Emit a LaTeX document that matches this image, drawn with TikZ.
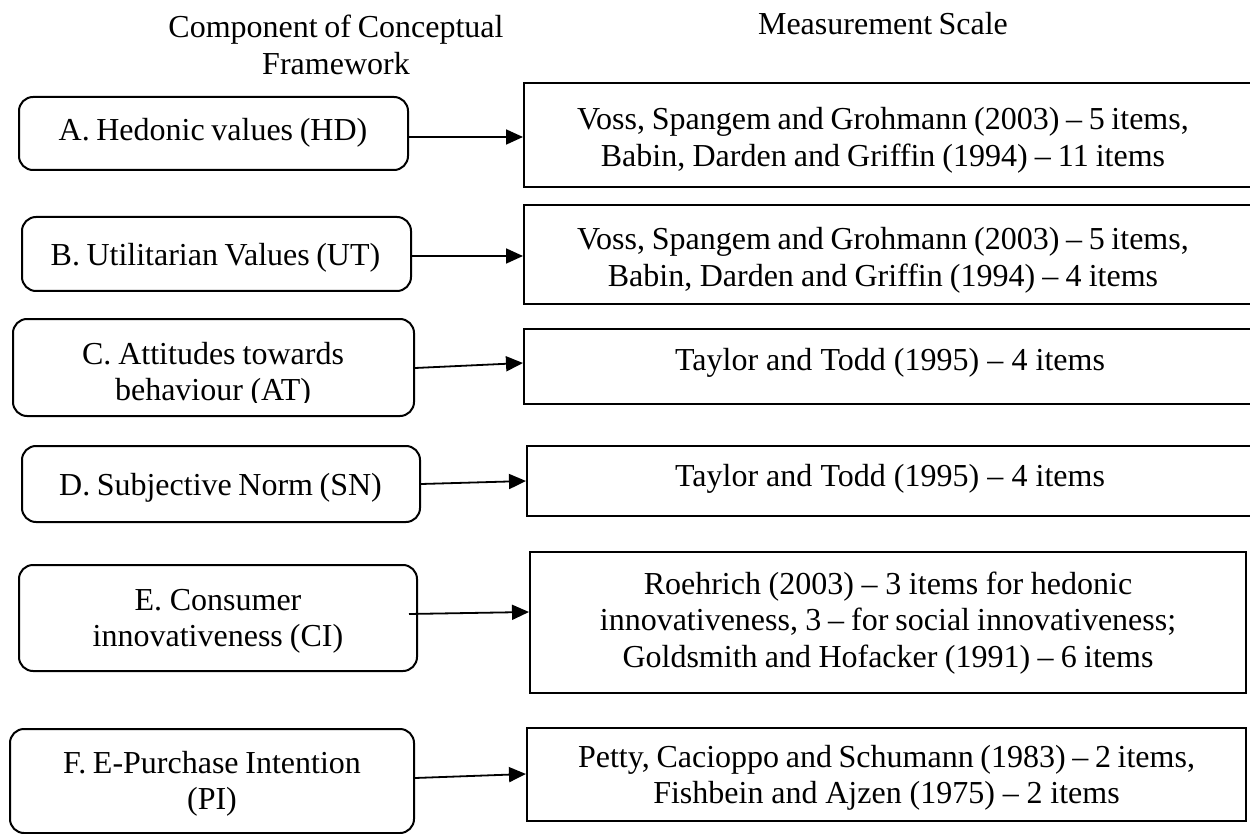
\documentclass[tikz,border=0pt]{standalone}
\usepackage{fontspec}
\setmainfont{Liberation Serif}
\usetikzlibrary{arrows.meta}
\tikzset{
  lbox/.style={draw, line width=2pt, rounded corners=14pt, inner sep=0pt},
  rbox/.style={draw, line width=2pt, inner sep=0pt},
  txt/.style={font=\fontsize{32}{36.5}\selectfont, align=center, inner sep=0pt, anchor=base,
    execute at begin node={\spaceskip=6pt plus 1pt minus 1pt\relax}},
  arr/.style={line width=1.8pt, -{Triangle[length=17pt,width=15pt]}}
}
\begin{document}
\begin{tikzpicture}[x=1pt,y=-1pt]
\useasboundingbox (0,0) rectangle (1250,834);
\clip (0,0) rectangle (1250,834);

% headers
\node[txt, text width=420pt] (h1) at (336,38) {Component of Conceptual\\Framework};
\node[txt, text width=300pt] (h2) at (883,35) {Measurement Scale};

% left boxes
\node[lbox, minimum width=389pt, minimum height=73pt]  (A) at (213.5,133.5) {};
\node[lbox, minimum width=389pt, minimum height=74pt]  (B) at (216.5,254) {};
\node[lbox, minimum width=401pt, minimum height=97pt]  (C) at (213.5,367.5) {};
\node[lbox, minimum width=398pt, minimum height=76pt]  (D) at (221,484) {};
\node[lbox, minimum width=398pt, minimum height=106pt] (E) at (218,618) {};
\node[lbox, minimum width=404pt, minimum height=104pt] (F) at (212,781) {};

% right boxes
\node[rbox, minimum width=732pt, minimum height=104pt] (RA) at (890,135) {};
\node[rbox, minimum width=732pt, minimum height=99pt]  (RB) at (890,254.5) {};
\node[rbox, minimum width=732pt, minimum height=75pt]  (RC) at (890,366.5) {};
\node[rbox, minimum width=729pt, minimum height=70pt]  (RD) at (891.5,481) {};
\node[rbox, minimum width=716pt, minimum height=141pt] (RE) at (888,622.5) {};
\node[rbox, minimum width=719pt, minimum height=93pt]  (RF) at (886.5,774.5) {};

% left texts
\node[txt, text width=390pt] (tA) at (213,141) {A. Hedonic values (HD)};
\node[txt, text width=390pt] (tB) at (215.5,266) {B. Utilitarian Values (UT)};
\begin{scope}
  \clip (0,300) rectangle (1250,402);
  \node[txt, text width=390pt] (tC) at (213,364) {C. Attitudes towards\\behaviour (AT)};
\end{scope}
\node[txt, text width=390pt] (tD) at (220.5,495) {D. Subjective Norm (SN)};
\node[txt, text width=390pt] (tE) at (218,610) {E. Consumer\\innovativeness (CI)};
\node[txt, text width=390pt] (tF) at (212,773) {F. E-Purchase Intention\\(PI)};

% right texts
\node[txt, text width=700pt] (tRA) at (883,130) {Voss, Spangem and Grohmann (2003) -- 5 items,\\Babin, Darden and Griffin (1994) -- 11 items};
\node[txt, text width=700pt] (tRB) at (883,250) {Voss, Spangem and Grohmann (2003) -- 5 items,\\Babin, Darden and Griffin (1994) -- 4 items};
\node[txt, text width=700pt] (tRC) at (890,370) {Taylor and Todd (1995) -- 4 items};
\node[txt, text width=700pt] (tRD) at (890,486) {Taylor and Todd (1995) -- 4 items};
\node[txt, text width=700pt] (tRE) at (888,594) {Roehrich (2003) -- 3 items for hedonic\\innovativeness, 3 -- for social innovativeness;\\Goldsmith and Hofacker (1991) -- 6 items};
\node[txt, text width=700pt] (tRF) at (886.5,767) {Petty, Cacioppo and Schumann (1983) -- 2 items,\\Fishbein and Ajzen (1975) -- 2 items};

% arrows
\draw[arr] ([yshift=-3.5pt]A.east) -- ([yshift=-2pt]RA.west);
\draw[arr] ([yshift=-2pt]B.east) -- ([yshift=-1.5pt]RB.west);
\draw[arr] ([yshift=-0.5pt]C.east) -- ([yshift=3.5pt]RC.west);
\draw[arr] (D.east) -- (RD.west);
\draw[arr] ([xshift=-9pt,yshift=4pt]E.east) -- ([yshift=10.5pt]RE.west);
\draw[arr] ([yshift=3pt]F.east) -- ([yshift=0.5pt]RF.west);
\end{tikzpicture}
\end{document}
